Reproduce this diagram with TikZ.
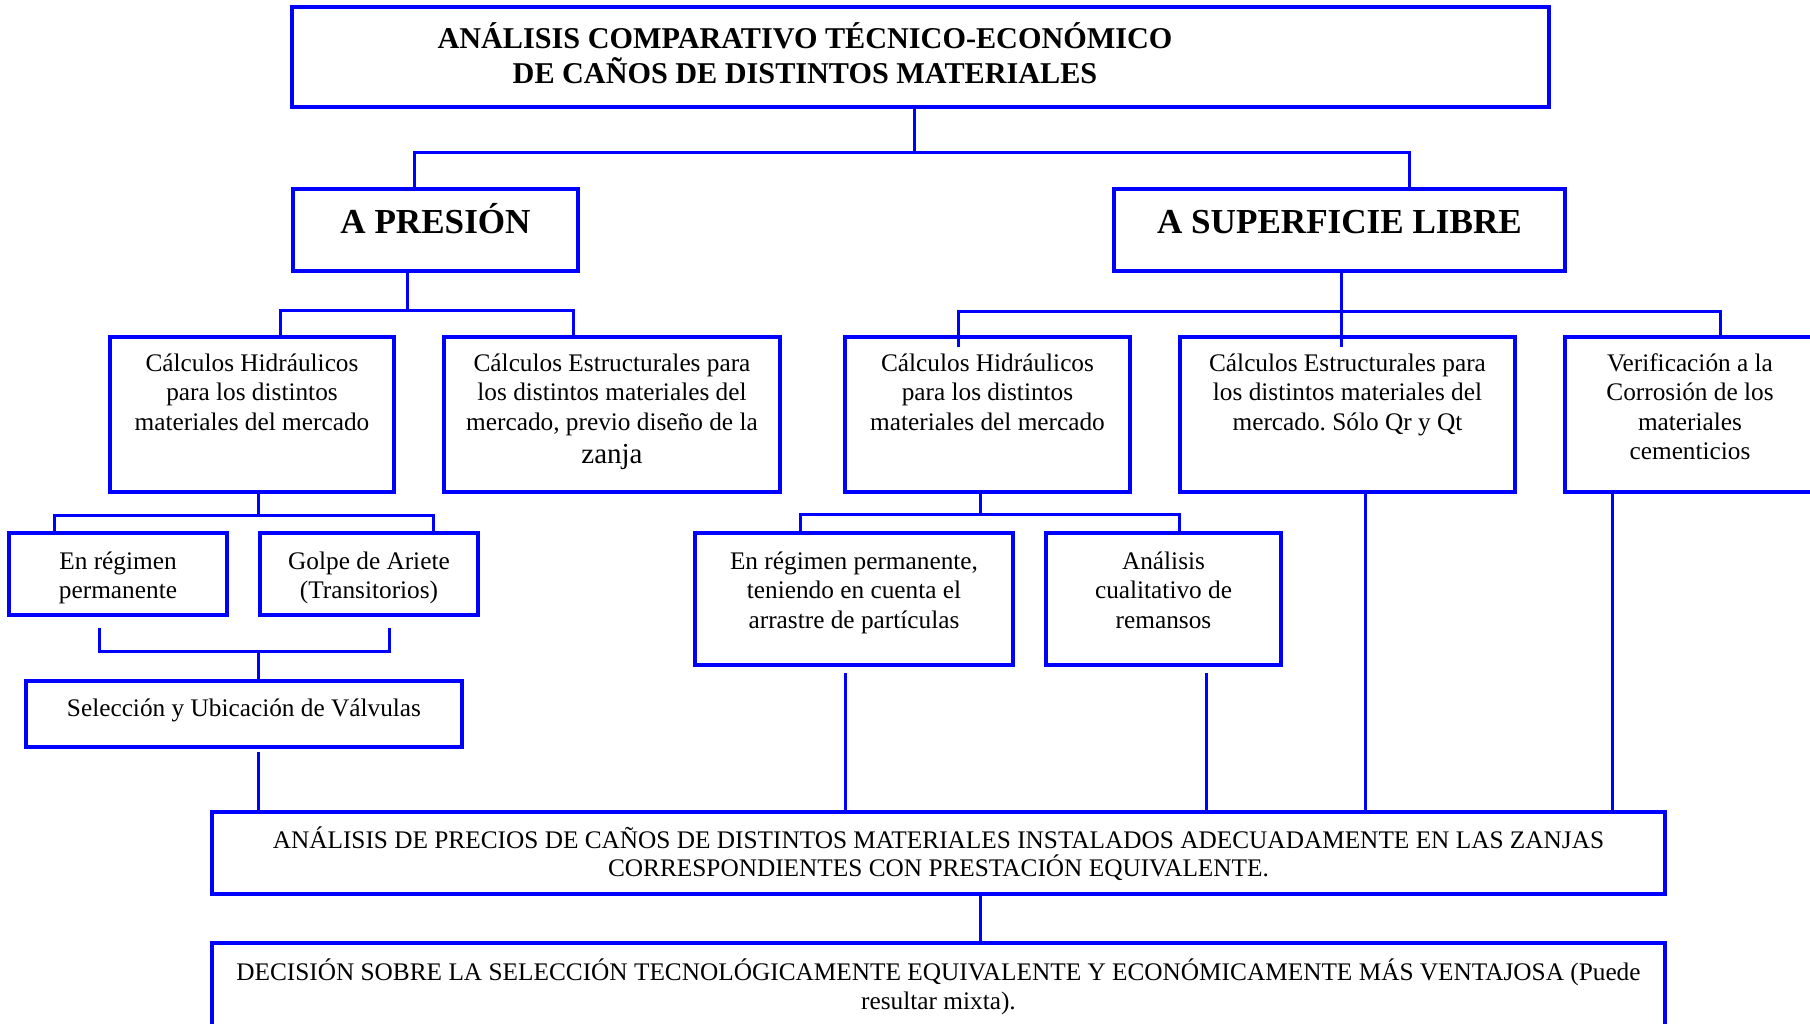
\documentclass[tikz,border=0pt]{standalone}
\usepackage{fontspec}
\setmainfont{Liberation Serif}
\usetikzlibrary{calc}
\definecolor{lb}{RGB}{0,0,255}
\frenchspacing
\newcommand\bxc[5]{\parbox[c][#2pt][t]{#1pt}{\centering\frenchspacing\vspace*{#3pt}\rule{0pt}{#4pt}#5}}
\begin{document}
\begin{tikzpicture}[x=1pt,y=-1pt,
  box/.style={draw=lb,line width=3.5pt,inner sep=0pt,outer sep=0pt,rectangle,font=\fontsize{25.3}{29.5}\selectfont},
  conn/.style={draw=lb,line width=3pt}]
\clip (0,0) rectangle (1810,1024);
% boxes
\node[box,font=\bfseries\fontsize{30.2}{35}\selectfont] (title) at (920.5,57)
  {\bxc{1257}{100}{12.5}{29}{\hspace*{-231pt}ANÁLISIS COMPARATIVO TÉCNICO-ECONÓMICO\\\hspace*{-231pt}DE CAÑOS DE DISTINTOS MATERIALES}};
\node[box,font=\bfseries\fontsize{35.1}{42}\selectfont] (presion) at (435.5,230) {\bxc{285}{82}{10.5}{34}{A PRESIÓN}};
\node[box,font=\bfseries\fontsize{35.1}{42}\selectfont] (sup) at (1339.5,230) {\bxc{451}{82}{10.5}{34}{A SUPERFICIE LIBRE}};
\node[box] (ch1) at (252,414.5) {\bxc{284}{155}{10}{24}{Cálculos Hidráulicos\\para los distintos\\materiales del mercado}};
\node[box] (ce1) at (612,414.5) {\bxc{336}{155}{10}{24}{Cálculos Estructurales para\\los distintos materiales del\\mercado, previo diseño de la\\[4pt]{\fontsize{29}{30}\selectfont zanja}}};
\node[box] (ch2) at (987.5,414.5) {\bxc{285}{155}{10}{24}{Cálculos Hidráulicos\\para los distintos\\materiales del mercado}};
\node[box] (ce2) at (1347.5,414.5) {\bxc{335}{155}{10}{24}{Cálculos Estructurales para\\los distintos materiales del\\mercado. Sólo Qr y Qt}};
\node[box] (verif) at (1690,414.5) {\bxc{250}{155}{10}{24}{Verificación a la\\Corrosión de los\\materiales\\cementicios}};
\node[box] (reg1) at (118,574) {\bxc{218}{82}{12}{24}{En régimen\\permanente}};
\node[box] (golpe) at (369,574) {\bxc{218}{82}{12}{24}{Golpe de Ariete\\(Transitorios)}};
\node[box] (reg2) at (854,599) {\bxc{318}{132}{12}{24}{En régimen permanente,\\teniendo en cuenta el\\arrastre de partículas}};
\node[box] (anal) at (1163.5,599) {\bxc{235}{132}{12}{24}{Análisis\\cualitativo de\\remansos}};
\node[box] (sel) at (244,714) {\bxc{436}{66}{11}{24}{Selección y Ubicación de Válvulas}};
\node[box,font=\fontsize{25.3}{28}\selectfont] (bot1) at (938.5,853) {\bxc{1453}{82}{12}{24}{ANÁLISIS DE PRECIOS DE CAÑOS DE DISTINTOS MATERIALES INSTALADOS ADECUADAMENTE EN LAS ZANJAS\\CORRESPONDIENTES CON PRESTACIÓN EQUIVALENTE.}};
\node[box,font=\fontsize{25.3}{29}\selectfont] (bot2) at (938.5,996.5) {\bxc{1453}{107}{13}{24}{DECISIÓN SOBRE LA SELECCIÓN TECNOLÓGICAMENTE EQUIVALENTE Y ECONÓMICAMENTE MÁS VENTAJOSA (Puede\\resultar mixta).}};
% junction coordinates
\coordinate (j1) at (914,153);
\coordinate (jL) at (414,153);
\coordinate (jR) at (1409,153);
\coordinate (p1) at (407,311);
\coordinate (pL) at (280,311);
\coordinate (pR) at (573,311);
\coordinate (s1) at (1341,312);
\coordinate (sL) at (958,312);
\coordinate (sR) at (1720,312);
\coordinate (c1) at (258,515);
\coordinate (cL) at (54,515);
\coordinate (cR) at (433,515);
\coordinate (bL) at (99,651);
\coordinate (bR) at (389,651);
\coordinate (b1) at (258,651);
\coordinate (h1) at (980,514);
\coordinate (hL) at (800,514);
\coordinate (hR) at (1179,514);
\coordinate (xs) at (258,0);
\coordinate (xr) at (845,0);
\coordinate (xa) at (1206,0);
\coordinate (xc) at (1365,0);
\coordinate (xv) at (1612,0);
\coordinate (xb) at (980,0);
% connectors
\draw[conn] (title.south -| j1) -- (j1);
\draw[conn] (presion.north -| jL) -- (jL) -- (jR) -- (sup.north -| jR);
\draw[conn] (presion.south -| p1) -- (p1);
\draw[conn] (ch1.north -| pL) -- (pL) -- (pR) -- (ce1.north -| pR);
\draw[conn] (sup.south -| s1) -- ($(ce2.north -| s1)+(0,10)$);
\draw[conn] ($(ch2.north -| sL)+(0,10)$) -- (sL) -- (sR) -- (verif.north -| sR);
\draw[conn] (ch1.south -| c1) -- (c1);
\draw[conn] (reg1.north -| cL) -- (cL) -- (cR) -- (golpe.north -| cR);
\draw[conn] ($(reg1.south -| bL)+(0,13)$) -- (bL) -- (bR) -- ($(golpe.south -| bR)+(0,13)$);
\draw[conn] (b1) -- (sel.north -| b1);
\draw[conn] ($(sel.south -| xs)+(0,5)$) -- (bot1.north -| xs);
\draw[conn] (ch2.south -| h1) -- (h1);
\draw[conn] (reg2.north -| hL) -- (hL) -- (hR) -- (anal.north -| hR);
\draw[conn] ($(reg2.south -| xr)+(0,8)$) -- (bot1.north -| xr);
\draw[conn] ($(anal.south -| xa)+(0,8)$) -- (bot1.north -| xa);
\draw[conn] (ce2.south -| xc) -- (bot1.north -| xc);
\draw[conn] (verif.south -| xv) -- (bot1.north -| xv);
\draw[conn] (bot1.south -| xb) -- (bot2.north -| xb);
\end{tikzpicture}
\end{document}
